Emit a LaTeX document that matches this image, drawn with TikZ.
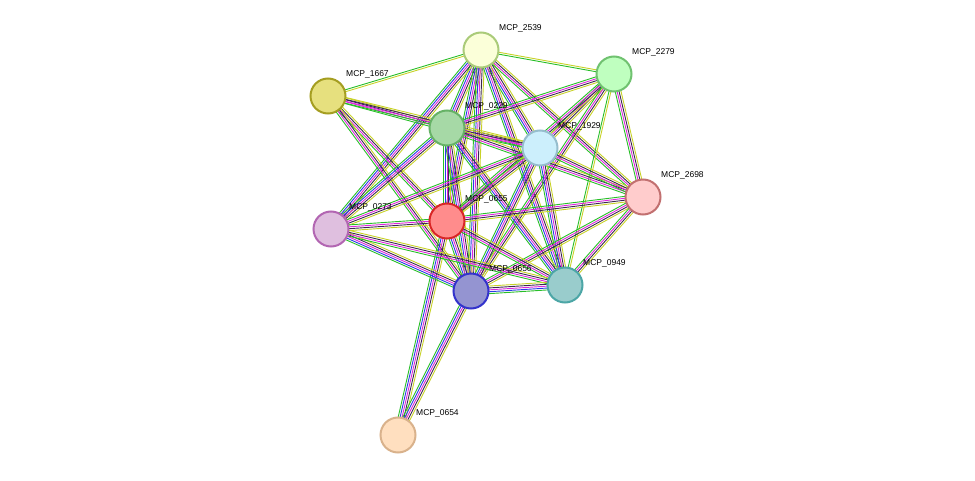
\documentclass[tikz,border=0pt]{standalone}
\usepackage{fontspec}
\setmainfont{Liberation Sans}
\usetikzlibrary{calc,backgrounds}
\definecolor{eg}{RGB}{40,190,40}
\definecolor{eb}{RGB}{40,60,230}
\definecolor{em}{RGB}{220,40,220}
\definecolor{ek}{RGB}{60,40,80}
\definecolor{ey}{RGB}{200,210,40}
\newcommand\edg[4]{\foreach \c [count=\i] in {#4}{\pgfmathsetmacro\o{(\i-(#3+1)/2)*1.9}
 \draw[\c, line width=0.9pt] ($(#1)!\o pt!90:(#2)$) -- ($(#2)!\o pt!-90:(#1)$);}}
\newcommand\eA[2]{\edg{#1}{#2}{5}{eg,eb,em,ek,ey}}
\newcommand\eB[2]{\edg{#1}{#2}{4}{eg,em,ek,ey}}
\newcommand\eC[2]{\edg{#1}{#2}{2}{eg,ey}}
\begin{document}
\begin{tikzpicture}[x=1pt,y=-1pt,
 nd/.style={circle,minimum size=35pt,inner sep=0pt,line width=2pt},
 lb/.style={anchor=west,font=\fontsize{8.5}{10}\selectfont,inner sep=0pt}]
\useasboundingbox (0,0) rectangle (975,481);
\def\nn#1#2#3#4#5{\node[nd,fill=#4,draw=#5] (#1) at (#2,#3) {};
 \node[lb] at ($(#1)+(18,-22)$) {MCP\_#1};}
\nn{2539}{481}{50}{green!10!yellow!15}{olive!50!green!50}
\nn{2279}{614}{74}{green!25}{green!40!gray!80}
\nn{1667}{328}{96}{yellow!50!olive!45}{olive!80}
\nn{0229}{447}{128}{green!40!gray!50}{green!50!black!60}
\nn{1929}{540}{148}{cyan!20}{cyan!40!gray!70}
\nn{2698}{643}{197}{red!20}{red!40!gray!80}
\nn{0655}{447}{221}{red!45}{red!70!gray}
\nn{0273}{331}{229}{violet!25}{violet!60}
\nn{0656}{471}{291}{blue!40!gray!60}{blue!60!gray}
\nn{0949}{565}{285}{teal!40}{teal!70}
\nn{0654}{398}{435}{orange!25}{brown!60}
\begin{pgfonlayer}{background}
\eC{2539}{2279}\eC{2539}{1667}\eA{2539}{0229}\eA{2539}{1929}\eB{2539}{2698}
\eA{2539}{0655}\eA{2539}{0273}\eA{2539}{0656}\eA{2539}{0949}
\eB{2279}{0229}\eB{2279}{1929}\eB{2279}{2698}\eB{2279}{0655}\eB{2279}{0656}\eC{2279}{0949}
\eB{1667}{0229}\eB{1667}{1929}\eB{1667}{0655}\eB{1667}{0656}
\eB{0229}{1929}\eB{0229}{2698}\eA{0229}{0655}\eA{0229}{0273}\eA{0229}{0656}\eA{0229}{0949}
\eB{1929}{2698}\eB{1929}{0655}\eB{1929}{0273}\eA{1929}{0656}\eA{1929}{0949}
\eB{2698}{0655}\eB{2698}{0656}\eB{2698}{0949}
\eB{0655}{0273}\eA{0655}{0656}\eB{0655}{0949}\eA{0655}{0654}
\eA{0273}{0656}\eB{0273}{0949}
\eA{0656}{0949}\eA{0656}{0654}
\end{pgfonlayer}
\end{tikzpicture}
\end{document}
